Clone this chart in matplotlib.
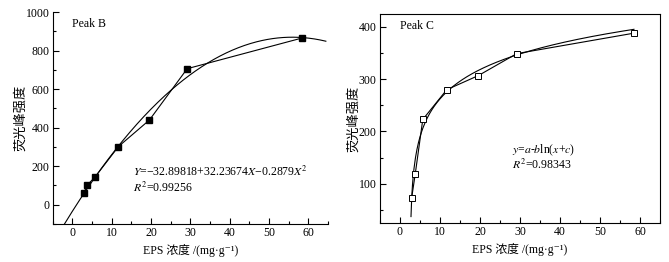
import numpy as np
import matplotlib
matplotlib.use("Agg")
import matplotlib.pyplot as plt
from matplotlib.ticker import MultipleLocator

plt.rcParams['font.family'] = ['Liberation Serif', 'DejaVu Serif', 'Noto Sans CJK SC']
plt.rcParams['mathtext.fontset'] = 'stix'
plt.rcParams['font.size'] = 8.5
plt.rcParams['axes.linewidth'] = 0.8

# measured data
eps_conc = [2.9, 3.8, 5.7, 11.7, 19.6, 29.2, 58.4]
peak_b = [62, 103, 143, 302, 440, 706, 865]
peak_c = [72, 118, 223, 280, 307, 349, 388]

# fit parameters
quad_coef = [-0.2879, 32.23674, -32.89818]   # Peak B: Y = c0 + c1 X + c2 X^2
log_a, log_b, log_c = 129.0, -66.2, -2.5     # Peak C: y = a - b ln(x + c)

xlabel = "EPS 浓度 /(mg·g⁻¹)"
ylabel = "荧光峰强度"

fig = plt.figure(figsize=(6.69, 2.62), dpi=100)
ax1 = fig.add_axes([0.079, 0.145, 0.411, 0.809])
ax2 = fig.add_axes([0.568, 0.149, 0.4185, 0.798])

# Peak B
xb = np.linspace(-2.1, 64.5, 300)
ax1.plot(xb, np.polyval(quad_coef, xb), color='k', lw=0.8)
ax1.plot(eps_conc, peak_b, color='k', lw=0.8, marker='s', ms=4.5,
         mfc='k', mec='k')
ax1.set_xlim(-5, 65)
ax1.set_ylim(-100, 1000)
ax1.spines['top'].set_visible(False)
ax1.spines['right'].set_visible(False)
ax1.xaxis.set_major_locator(MultipleLocator(10))
ax1.xaxis.set_minor_locator(MultipleLocator(5))
ax1.yaxis.set_major_locator(MultipleLocator(200))
ax1.yaxis.set_minor_locator(MultipleLocator(100))
ax1.text(0.07, 0.93, "Peak B", transform=ax1.transAxes)
ax1.text(0.29, 0.225, r"$Y$=−32.89818+32.23674$X$−0.2879$X^2$",
         transform=ax1.transAxes)
ax1.text(0.29, 0.15, r"$R^2$=0.99256", transform=ax1.transAxes)

# Peak C
xc = np.linspace(2.75, 58.5, 300)
ax2.plot(xc, log_a - log_b * np.log(xc + log_c), color='k', lw=0.8)
ax2.plot(eps_conc, peak_c, color='k', lw=0.8, marker='s', ms=4.5,
         mfc='white', mec='k', mew=0.7)
ax2.set_xlim(-5, 65)
ax2.set_ylim(25, 425)
ax2.xaxis.set_major_locator(MultipleLocator(10))
ax2.xaxis.set_minor_locator(MultipleLocator(5))
ax2.yaxis.set_major_locator(MultipleLocator(100))
ax2.yaxis.set_minor_locator(MultipleLocator(50))
ax2.text(0.07, 0.93, "Peak C", transform=ax2.transAxes)
ax2.text(0.47, 0.335, r"$y$=$a$-$b$ln($x$+$c$)", transform=ax2.transAxes)
ax2.text(0.47, 0.26, r"$R^2$=0.98343", transform=ax2.transAxes)

for ax in (ax1, ax2):
    ax.tick_params(which='both', direction='in', top=False, right=False,
                   labelsize=8.5, width=0.8, pad=2.5)
    ax.tick_params(which='major', length=4)
    ax.tick_params(which='minor', length=2.5)
    ax.set_xlabel(xlabel, fontsize=8.5, labelpad=3)
    ax.set_ylabel(ylabel, fontsize=9.5, labelpad=-1)

fig.savefig("out.png", dpi=100)
